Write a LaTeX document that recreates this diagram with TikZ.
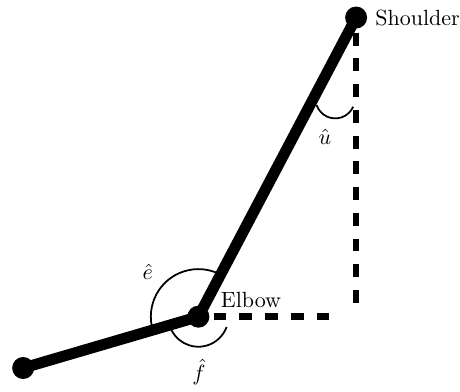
\documentclass[tikz,border=0pt]{standalone}
\usepackage{amsmath,amssymb}
\usepackage{tikz}
\tikzset{
  joint/.style={circle,fill=black,inner sep=0pt,minimum size=10pt},
  limb/.style={line width=5pt},
  guide/.style={line width=3pt,dash pattern=on 5.85pt off 5.85pt,dash phase=4.8pt},
  anglemark/.style={line width=0.8pt}
}
\begin{document}
\begin{tikzpicture}
  \useasboundingbox (0,0) rectangle (7.35,6.25);
  \node[joint] (hand) at (0.37,0.37) {};
  \node[joint] (elbow) at (3.17,1.19) {};
  \node[joint] (shoulder) at (5.69,5.97) {};
  \coordinate (vend) at (5.69,1.23);
  \coordinate (hend) at (5.38,1.19);
  \draw[anglemark] (elbow.center) ++(62:0.76) arc (62:196:0.76);
  \draw[anglemark] (elbow.center) ++(196:0.48) arc (196:340:0.48);
  \draw[anglemark] (5.06,4.57) arc (199:336:0.314);
  \draw[guide] (shoulder.center) -- (vend);
  \draw[guide] (elbow.center) -- (hend);
  \draw[limb] (hand.center) -- (elbow.center) -- (shoulder.center);
  \node[right] (shlabel) at (shoulder.east) {Shoulder};
  \node (ellabel) at (4.01,1.46) {Elbow};
  \node (elabel) at (2.36,1.91) {$\hat{e}$};
  \node (flabel) at (3.18,0.30) {$\hat{f}$};
  \node (ulabel) at (5.19,4.06) {$\hat{u}$};
\end{tikzpicture}
\end{document}
